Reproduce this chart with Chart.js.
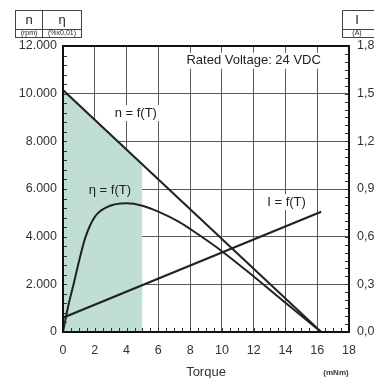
<!DOCTYPE html>
<html>
<head>
<meta charset="utf-8">
<script src="https://cdn.jsdelivr.net/npm/chart.js@4/dist/chart.umd.min.js"></script>
<style>
  html, body { margin: 0; padding: 0; background: #fff; }
  #wrap { width: 374px; height: 378px; }
</style>
</head>
<body>
<div id="wrap"><canvas id="motorChart" width="374" height="378"></canvas></div>
<script>
// motor curves (torque in mNm)
const speedTorque = [0, 16.25];
const speedRpm = [10150, 0];

const effTorque = [0, 0.3, 0.7, 1.0, 1.4, 2.0, 2.8, 4.0, 5.0, 6.0, 7.3, 8.5, 10.0, 12.0, 14.0, 16.25];
const effValue = [0, 1000, 2100, 2950, 3950, 4830, 5250, 5400, 5300, 5050, 4620, 4100, 3390, 2330, 1230, 0];

const currentTorque = [0, 16.25];
const currentAmp = [0.09, 0.757];

// shaded continuous-operation zone under n = f(T)
const shadeTorque = [0, 5];
const shadeRpm = [10150, 7030];

const xTicks = [0, 2, 4, 6, 8, 10, 12, 14, 16, 18];
const leftTicks = [0, 2000, 4000, 6000, 8000, 10000, 12000];
const rightTicks = [0, 0.3, 0.6, 0.9, 1.2, 1.5, 1.8];

const FONT = "'Liberation Sans', Arial, Helvetica, sans-serif";
const INK = '#222';
const GRID = '#5a5a5a';
const SHADE = '#c0ded3';

const pts = (xs, ys) => xs.map((x, i) => ({ x, y: ys[i] }));

// text labels placed in data coordinates
const notes = [
  { text: 'Rated Voltage: 24 VDC', x: 12.0, y: 11380, bg: '#fff' },
  { text: 'n = f(T)', x: 4.58, y: 9190, bg: '#fff' },
  { text: '\u03B7 = f(T)', x: 2.95, y: 5960, bg: SHADE },
  { text: 'I = f(T)', x: 14.07, y: 5450, bg: '#fff' }
];

const decorPlugin = {
  id: 'decor',
  afterDraw(chart) {
    const { ctx, chartArea: a, scales } = chart;
    const x = scales.x, y = scales.y, y1 = scales.y1;
    ctx.save();

    // minor ticks pointing inward
    ctx.strokeStyle = '#333';
    ctx.lineWidth = 1;
    ctx.beginPath();
    for (let t = 0; t <= 18; t += 0.5) {
      const px = Math.round(x.getPixelForValue(t)) + 0.5;
      ctx.moveTo(px, a.bottom); ctx.lineTo(px, a.bottom - 4);
    }
    for (let v = 0; v <= 12000; v += 400) {
      const py = Math.round(y.getPixelForValue(v)) + 0.5;
      ctx.moveTo(a.left, py); ctx.lineTo(a.left + 4, py);
    }
    for (let v = 0; v <= 1.8001; v += 0.05) {
      const py = Math.round(y1.getPixelForValue(v)) + 0.5;
      ctx.moveTo(a.right, py); ctx.lineTo(a.right - 4, py);
    }
    ctx.stroke();

    // curve labels with backing boxes
    ctx.font = '13px ' + FONT;
    ctx.textAlign = 'center';
    ctx.textBaseline = 'middle';
    notes.forEach(n => {
      const px = x.getPixelForValue(n.x), py = y.getPixelForValue(n.y);
      const w = ctx.measureText(n.text).width + 8;
      ctx.fillStyle = n.bg;
      ctx.fillRect(px - w / 2, py - 8, w, 16);
      ctx.fillStyle = INK;
      ctx.fillText(n.text, px, py);
    });

    // frame
    ctx.strokeStyle = '#111';
    ctx.lineWidth = 2;
    ctx.strokeRect(a.left, a.top, a.right - a.left, a.bottom - a.top);

    // unit header boxes
    ctx.strokeStyle = '#444';
    ctx.lineWidth = 1;
    ctx.strokeRect(15.5, 10.5, 66, 27);
    ctx.beginPath();
    ctx.moveTo(15.5, 29.5); ctx.lineTo(81.5, 29.5);
    ctx.moveTo(42.5, 10.5); ctx.lineTo(42.5, 37.5);
    ctx.moveTo(342.5, 10.5); ctx.lineTo(380, 10.5);
    ctx.moveTo(342.5, 29.5); ctx.lineTo(380, 29.5);
    ctx.moveTo(342.5, 37.5); ctx.lineTo(380, 37.5);
    ctx.moveTo(342.5, 10.5); ctx.lineTo(342.5, 37.5);
    ctx.stroke();

    ctx.fillStyle = INK;
    ctx.font = '13px ' + FONT;
    ctx.fillText('n', 29, 20);
    ctx.fillText('\u03B7', 62, 20);
    ctx.fillText('I', 357, 20);
    ctx.font = '7px ' + FONT;
    ctx.fillText('(rpm)', 29, 33.5);
    ctx.fillText('(%x0,01)', 62, 33.5);
    ctx.fillText('(A)', 357, 33.5);

    ctx.font = 'bold 8px ' + FONT;
    ctx.fillStyle = '#333';
    ctx.fillText('(mNm)', 336, 373);
    ctx.restore();
  }
};

new Chart(document.getElementById('motorChart'), {
  type: 'line',
  data: {
    datasets: [
      {
        label: 'n',
        data: pts(speedTorque, speedRpm),
        borderColor: INK,
        borderWidth: 2,
        pointRadius: 0,
        yAxisID: 'y'
      },
      {
        label: 'eta',
        data: pts(effTorque, effValue),
        borderColor: INK,
        borderWidth: 2,
        pointRadius: 0,
        cubicInterpolationMode: 'monotone',
        yAxisID: 'y'
      },
      {
        label: 'I',
        data: pts(currentTorque, currentAmp),
        borderColor: INK,
        borderWidth: 2,
        pointRadius: 0,
        yAxisID: 'y1'
      },
      {
        label: 'zone',
        data: pts(shadeTorque, shadeRpm),
        borderWidth: 0,
        borderColor: 'rgba(0,0,0,0)',
        backgroundColor: SHADE,
        fill: 'origin',
        pointRadius: 0,
        order: 10,
        yAxisID: 'y'
      }
    ]
  },
  options: {
    responsive: false,
    animation: false,
    events: [],
    layout: { padding: { top: 46, left: 0, right: 0, bottom: 0 } },
    plugins: { legend: { display: false }, tooltip: { enabled: false } },
    scales: {
      x: {
        type: 'linear',
        min: 0, max: 18,
        z: 1,
        afterBuildTicks: s => { s.ticks = xTicks.map(v => ({ value: v })); },
        afterFit: s => { s.height = 46; },
        grid: { color: GRID, lineWidth: 1, drawTicks: false },
        border: { display: false },
        ticks: { padding: 11, color: '#333', font: { family: FONT, size: 12.5 }, maxRotation: 0 },
        title: { display: true, text: 'Torque', color: '#333', font: { family: FONT, size: 13 }, padding: { top: 0, bottom: -2 } }
      },
      y: {
        position: 'left',
        min: 0, max: 12000,
        z: 1,
        afterBuildTicks: s => { s.ticks = leftTicks.map(v => ({ value: v })); },
        afterFit: s => { s.width = 63; },
        grid: { color: GRID, lineWidth: 1, drawTicks: false },
        border: { display: false },
        ticks: {
          padding: 6, color: '#333', font: { family: FONT, size: 12.5 },
          callback: v => v === 0 ? '0' : (v / 1000).toFixed(3)
        }
      },
      y1: {
        position: 'right',
        min: 0, max: 1.8,
        afterBuildTicks: s => { s.ticks = rightTicks.map(v => ({ value: v })); },
        afterFit: s => { s.width = 25; },
        grid: { display: false, drawTicks: false },
        border: { display: false },
        ticks: {
          padding: 8, color: '#333', font: { family: FONT, size: 12.5 },
          callback: v => v.toFixed(1).replace('.', ',')
        }
      }
    }
  },
  plugins: [decorPlugin]
});
</script>
</body>
</html>
